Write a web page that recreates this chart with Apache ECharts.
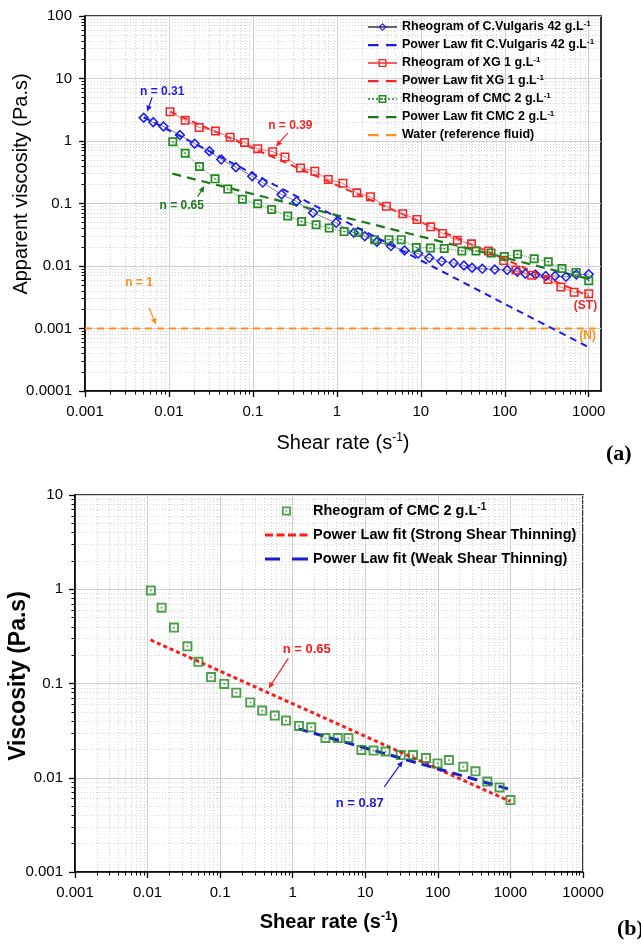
<!DOCTYPE html>
<html><head><meta charset="utf-8">
<script src="https://cdn.jsdelivr.net/npm/echarts@6/dist/echarts.min.js"></script>
<style>html,body{margin:0;padding:0;background:#fff}#c{width:641px;height:947px}</style>
</head><body><div id="c"></div>
<script>
// ---------- data ----------
const cvX = [0.0050,0.0065,0.0086,0.0135,0.0202,0.0303,0.0419,0.0627,0.098,0.131,0.219,0.33,0.52,0.98,1.59,2.15,3.0,4.4,6.4,9.3,12.6,17.7,24.6,32.6,40.8,54,76,107,141,176,232,307,396,535,711,1000];
const cvY = [2.36,1.99,1.71,1.25,0.906,0.684,0.504,0.38,0.273,0.216,0.139,0.108,0.071,0.049,0.034,0.030,0.0244,0.0208,0.0177,0.0158,0.0135,0.0119,0.0112,0.0102,0.0094,0.0090,0.0088,0.0086,0.0081,0.0075,0.0073,0.0069,0.0069,0.0067,0.0073,0.0074];
const xgX = [0.0103,0.0156,0.0229,0.0358,0.0536,0.0794,0.114,0.172,0.241,0.369,0.546,0.79,1.18,1.73,2.51,3.89,6.1,9.0,13.1,18.2,27.2,40.1,63.9,97,136,209,327,466,670,1000];
const xgY = [2.94,2.14,1.65,1.44,1.15,0.95,0.755,0.676,0.556,0.371,0.328,0.242,0.211,0.148,0.128,0.0906,0.0684,0.0555,0.0423,0.0331,0.0259,0.0226,0.0173,0.0122,0.0086,0.0071,0.0061,0.0046,0.0038,0.0036];
const cmcX = [0.0111,0.0156,0.0231,0.0354,0.0502,0.075,0.114,0.167,0.26,0.38,0.566,0.81,1.22,1.8,2.82,4.17,5.85,8.84,13,19,30.8,45.4,68.6,98.8,142,224,330,480,708,1000];
const cmcY = [0.97,0.638,0.392,0.248,0.17,0.117,0.099,0.080,0.063,0.0516,0.0457,0.0404,0.0355,0.0343,0.0264,0.0264,0.0264,0.0197,0.0194,0.019,0.0174,0.0174,0.0162,0.0142,0.0154,0.0131,0.0117,0.0091,0.0079,0.0058];
// power-law fit lines (end points)
const cvFitX = [0.005, 948];   const cvFitY = [2.4, 0.00052];
const xgFitX = [0.0103, 1000]; const xgFitY = [2.94, 0.0033];
const cmcFitX = [0.011, 1000]; const cmcFitY = [0.30, 0.0062];
const waterX = [0.001, 1200];  const waterY = [0.001, 0.001];
const strongFitX = [0.011, 1000]; const strongFitY = [0.29, 0.0056];
const weakFitX = [1.2, 1000];     const weakFitY = [0.033, 0.0075];
// tick labels
const topXTicks = [0.001,0.01,0.1,1,10,100,1000];
const topYTicks = [0.0001,0.001,0.01,0.1,1,10,100];
const botXTicks = [0.001,0.01,0.1,1,10,100,1000,10000];
const botYTicks = [0.001,0.01,0.1,1,10];

// ---------- helpers ----------
const FONT = "'Liberation Sans', Arial, sans-serif";
const zip = (xs, ys) => xs.map((x, i) => [x, ys[i]]);
function minors(lo, hi, maxV) {
  const out = [];
  for (let e = lo; e < hi; e++) for (let m = 2; m <= 9; m++) {
    const v = +(m * Math.pow(10, e)).toPrecision(6);
    if (v <= maxV) out.push(v);
  }
  return out;
}
function fmt(v) { return String(+Number(v).toPrecision(6)); }

function majorAxis(gridIndex, min, max, ticks, o) {
  return {
    type: 'log', logBase: 10, gridIndex, min, max, position: o.pos,
    axisLine: {show: true, onZero: false, lineStyle: {color: '#000', width: 1.6}},
    axisTick: {show: true, inside: false, length: 6, customValues: ticks, lineStyle: {color: '#000', width: 1.3}},
    axisLabel: {show: true, customValues: ticks, formatter: fmt, fontSize: o.fs, color: '#000', fontFamily: FONT, margin: o.margin},
    splitLine: {show: true, lineStyle: {color: '#cfcfcf', width: 1}},
    minorTick: {show: false}, minorSplitLine: {show: false},
    name: o.name || '', nameLocation: 'middle', nameGap: o.gap || 0,
    nameTextStyle: {fontSize: o.nfs || 12, fontWeight: o.bold ? 'bold' : 'normal', fontFamily: FONT, color: '#000',
      rich: {sup: {fontSize: Math.round((o.nfs || 12) * 0.6), fontWeight: o.bold ? 'bold' : 'normal', fontFamily: FONT, color: '#000', padding: [0, 0, Math.round((o.nfs || 12) * 0.5), 0]}}}
  };
}
function minorAxis(gridIndex, min, max, ticks, pos) {
  return {
    type: 'log', logBase: 10, gridIndex, min, max, position: pos,
    axisLine: {show: false},
    axisTick: {show: true, inside: false, length: 3.5, customValues: ticks, lineStyle: {color: '#000', width: 1}},
    axisLabel: {show: false},
    splitLine: {show: true, lineStyle: {color: '#d4d4d4', width: 1, type: [1, 2]}}
  };
}

const BLUE = '#1c1cf0', RED = '#f52525', GREEN = '#218a21', DGREEN = '#1a7a1a', ORANGE = '#ff8f1a';
const diamondSym = 'path://M5,0L10,5L5,10L0,5Z M5,2L2,5L5,8L8,5Z';
const squareSym = 'path://M0,0H10V10H0Z M1.7,1.7V8.3H8.3V1.7Z';
const squareDotSym = 'path://M0,0H10V10H0Z M1.9,1.9V8.1H8.1V1.9Z M4.2,4.2H5.8V5.8H4.2Z';

const dashIconTop = 'path://M0,0M29,10M0,4H10.5V6.2H0Z M18,4H28.5V6.2H18Z';
const strongIcon = 'path://M0,0M43,12M0,4.5H8V7.5H0Z M11.5,4.5H19.5V7.5H11.5Z M23,4.5H31V7.5H23Z M34.5,4.5H42.5V7.5H34.5Z';
const weakIcon = 'path://M0,0M43,12M0,4.5H15V7.5H0Z M27,4.5H43V7.5H27Z';
const squareIcon = 'path://M0,0M43,12M17,1.5H26V10.5H17Z M18.7,3.2V8.8H24.3V3.2Z M20.8,5.3H22.2V6.7H20.8Z';

function legendFmt(name) {
  return name.replace(/^b:/, '').replace(/g\.L$/, 'g.L{sup|-1}');
}

const chart = echarts.init(document.getElementById('c'), null, {renderer: 'canvas'});
const option = {
  backgroundColor: '#fff',
  animation: false,
  grid: [
    {left: 85, top: 16, width: 516, height: 375, show: true, borderColor: '#000', borderWidth: 1.6, backgroundColor: 'transparent'},
    {left: 75, top: 495, width: 508, height: 377, show: true, borderColor: '#000', borderWidth: 1.6, backgroundColor: 'transparent'}
  ],
  xAxis: [
    majorAxis(0, 0.001, 1400, topXTicks, {pos: 'bottom', fs: 15, margin: 13, name: 'Shear rate (s{sup|-1})', nfs: 20, bold: false, gap: 41}),
    minorAxis(0, 0.001, 1400, minors(-3, 4, 1400), 'bottom'),
    majorAxis(1, 0.001, 10000, botXTicks, {pos: 'bottom', fs: 15, margin: 13, name: 'Shear rate (s{sup|-1})', nfs: 20, bold: true, gap: 39}),
    minorAxis(1, 0.001, 10000, minors(-3, 4, 10000), 'bottom')
  ],
  yAxis: [
    majorAxis(0, 0.0001, 100, topYTicks, {pos: 'left', fs: 15, margin: 13}),
    minorAxis(0, 0.0001, 100, minors(-4, 2, 100), 'left'),
    majorAxis(1, 0.001, 10, botYTicks, {pos: 'left', fs: 15, margin: 12}),
    minorAxis(1, 0.001, 10, minors(-3, 1, 10), 'left')
  ],
  legend: [
    {
      orient: 'vertical', left: 367, top: 20, itemWidth: 29, itemHeight: 10, itemGap: 4, selectedMode: false,
      formatter: legendFmt, padding: 0,
      textStyle: {fontSize: 12.5, fontWeight: 'bold', fontFamily: FONT, color: '#000', lineHeight: 14,
        rich: {sup: {fontSize: 8, fontWeight: 'bold', fontFamily: FONT, color: '#000', padding: [0, 0, 6, 0]}}},
      data: [
        {name: 'Rheogram of C.Vulgaris 42 g.L'},
        {name: 'Power Law fit C.Vulgaris 42 g.L', icon: dashIconTop},
        {name: 'Rheogram of XG 1 g.L'},
        {name: 'Power Law fit XG 1 g.L', icon: dashIconTop},
        {name: 'Rheogram of CMC 2 g.L'},
        {name: 'Power Law fit CMC 2 g.L', icon: dashIconTop},
        {name: 'Water (reference fluid)', icon: dashIconTop}
      ]
    },
    {
      orient: 'vertical', left: 265, top: 502, itemWidth: 43, itemHeight: 12, itemGap: 7, selectedMode: false,
      formatter: legendFmt, padding: 0,
      textStyle: {fontSize: 14.5, fontWeight: 'bold', fontFamily: FONT, color: '#000', lineHeight: 17,
        rich: {sup: {fontSize: 10, fontWeight: 'bold', fontFamily: FONT, color: '#000', padding: [0, 0, 8, 0]}}},
      data: [
        {name: 'b:Rheogram of CMC 2 g.L', icon: squareIcon},
        {name: 'b:Power Law fit (Strong Shear Thinning)', icon: strongIcon},
        {name: 'b:Power Law fit (Weak Shear Thinning)', icon: weakIcon}
      ]
    }
  ],
  series: [
    {name: 'Power Law fit C.Vulgaris 42 g.L', type: 'line', xAxisIndex: 0, yAxisIndex: 0, data: zip(cvFitX, cvFitY), symbol: 'none',
      lineStyle: {color: BLUE, width: 2, type: [7, 5]}, itemStyle: {color: BLUE}, z: 6},
    {name: 'Power Law fit XG 1 g.L', type: 'line', xAxisIndex: 0, yAxisIndex: 0, data: zip(xgFitX, xgFitY), symbol: 'none',
      lineStyle: {color: RED, width: 2, type: [7, 5]}, itemStyle: {color: RED}, z: 3},
    {name: 'Power Law fit CMC 2 g.L', type: 'line', xAxisIndex: 0, yAxisIndex: 0, data: zip(cmcFitX, cmcFitY), symbol: 'none',
      lineStyle: {color: DGREEN, width: 2.2, type: [9, 6]}, itemStyle: {color: DGREEN}, z: 3},
    {name: 'Water (reference fluid)', type: 'line', xAxisIndex: 0, yAxisIndex: 0, data: zip(waterX, waterY), symbol: 'none',
      lineStyle: {color: ORANGE, width: 2, type: [7, 5]}, itemStyle: {color: ORANGE}, z: 3},
    {name: 'Rheogram of C.Vulgaris 42 g.L', type: 'line', xAxisIndex: 0, yAxisIndex: 0, data: zip(cvX, cvY),
      symbol: diamondSym, symbolSize: 11, showAllSymbol: true,
      lineStyle: {color: '#666', width: 0.8}, itemStyle: {color: BLUE}, z: 5},
    {name: 'Rheogram of XG 1 g.L', type: 'line', xAxisIndex: 0, yAxisIndex: 0, data: zip(xgX, xgY),
      symbol: squareSym, symbolSize: 9, showAllSymbol: true,
      lineStyle: {color: '#f56060', width: 0.9}, itemStyle: {color: RED}, z: 5},
    {name: 'Rheogram of CMC 2 g.L', type: 'line', xAxisIndex: 0, yAxisIndex: 0, data: zip(cmcX, cmcY),
      symbol: squareDotSym, symbolSize: 9, showAllSymbol: true,
      lineStyle: {color: '#4a9e4a', width: 1, type: 'dotted'}, itemStyle: {color: GREEN}, z: 5},

    {name: 'b:Power Law fit (Strong Shear Thinning)', type: 'line', xAxisIndex: 2, yAxisIndex: 2, data: zip(strongFitX, strongFitY), symbol: 'none',
      lineStyle: {color: '#ff1a1a', width: 3, type: [4, 3]}, itemStyle: {color: '#ff1a1a'}, z: 3},
    {name: 'b:Power Law fit (Weak Shear Thinning)', type: 'line', xAxisIndex: 2, yAxisIndex: 2, data: zip(weakFitX, weakFitY), symbol: 'none',
      lineStyle: {color: '#1c1cd0', width: 3, type: [10, 6]}, itemStyle: {color: '#1c1cd0'}, z: 4},
    {name: 'b:Rheogram of CMC 2 g.L', type: 'scatter', xAxisIndex: 2, yAxisIndex: 2, data: zip(cmcX, cmcY),
      symbol: squareDotSym, symbolSize: 10, itemStyle: {color: GREEN}, z: 5}
  ]
};
chart.setOption(option);

// ---------- annotations (placed in data coordinates) ----------
const annTop = [
  {t: 'n = 0.31', c: BLUE, at: [0.0083, 6.2], from: [0.0063, 5.0], to: [0.0055, 2.95]},
  {t: 'n = 0.39', c: RED, at: [0.279, 1.76], from: [0.26, 1.34], to: [0.188, 0.82]},
  {t: 'n = 0.65', c: DGREEN, at: [0.0142, 0.0906], from: [0.0219, 0.128], to: [0.0264, 0.19]},
  {t: 'n = 1', c: ORANGE, at: [0.0044, 0.0054], from: [0.0058, 0.00214], to: [0.0070, 0.00116]},
  {t: '(ST)', c: RED, at: [916, 0.00228]},
  {t: '(N)', c: ORANGE, at: [968, 0.00078]}
];
const annBot = [
  {t: 'n = 0.65', c: '#ff1a1a', at: [1.56, 0.23], from: [0.87, 0.185], to: [0.467, 0.089]},
  {t: 'n = 0.87', c: '#1c1cd0', at: [8.4, 0.0054], from: [18.3, 0.008], to: [32.8, 0.0151]}
];
function arrow(p1, p2, color) {
  const dx = p2[0] - p1[0], dy = p2[1] - p1[1], L = Math.hypot(dx, dy), ux = dx / L, uy = dy / L;
  const hl = 6, hw = 2.8, bx = p2[0] - ux * hl, by = p2[1] - uy * hl;
  return [
    {type: 'line', shape: {x1: p1[0], y1: p1[1], x2: bx, y2: by}, style: {stroke: color, lineWidth: 1.2}, z: 20},
    {type: 'polygon', shape: {points: [[p2[0], p2[1]], [bx - uy * hw, by + ux * hw], [bx + uy * hw, by - ux * hw]]}, style: {fill: color}, z: 20}
  ];
}
const g = [];
function addAnn(list, axes, fs) {
  list.forEach(a => {
    const p = chart.convertToPixel(axes, a.at);
    g.push({type: 'text', x: p[0], y: p[1], z: 20,
      style: {text: a.t, fill: a.c, fontSize: fs, fontWeight: 'bold', fontFamily: FONT, align: 'center', verticalAlign: 'middle'}});
    if (a.from) g.push(...arrow(chart.convertToPixel(axes, a.from), chart.convertToPixel(axes, a.to), a.c));
  });
}
addAnn(annTop, {xAxisIndex: 0, yAxisIndex: 0}, 12);
addAnn(annBot, {xAxisIndex: 2, yAxisIndex: 2}, 13);
// y-axis titles
g.push({type: 'text', x: 21, y: 184, rotation: Math.PI / 2, z: 20,
  style: {text: 'Apparent viscosity (Pa.s)', fill: '#000', fontSize: 20, fontFamily: FONT, align: 'center', verticalAlign: 'middle'}});
g.push({type: 'text', x: 19, y: 676, rotation: Math.PI / 2, z: 20,
  style: {text: 'Viscosity (Pa.s)', fill: '#000', fontSize: 23, fontWeight: 'bold', fontFamily: FONT, align: 'center', verticalAlign: 'middle'}});
// panel labels
g.push({type: 'text', x: 606, y: 454, z: 20, style: {text: '(a)', fill: '#000', fontSize: 22, fontWeight: 'bold', fontFamily: "'Liberation Serif', 'Times New Roman', serif", verticalAlign: 'middle'}});
g.push({type: 'text', x: 617, y: 929, z: 20, style: {text: '(b)', fill: '#000', fontSize: 22, fontWeight: 'bold', fontFamily: "'Liberation Serif', 'Times New Roman', serif", verticalAlign: 'middle'}});
chart.setOption({graphic: g});
</script>
</body></html>
